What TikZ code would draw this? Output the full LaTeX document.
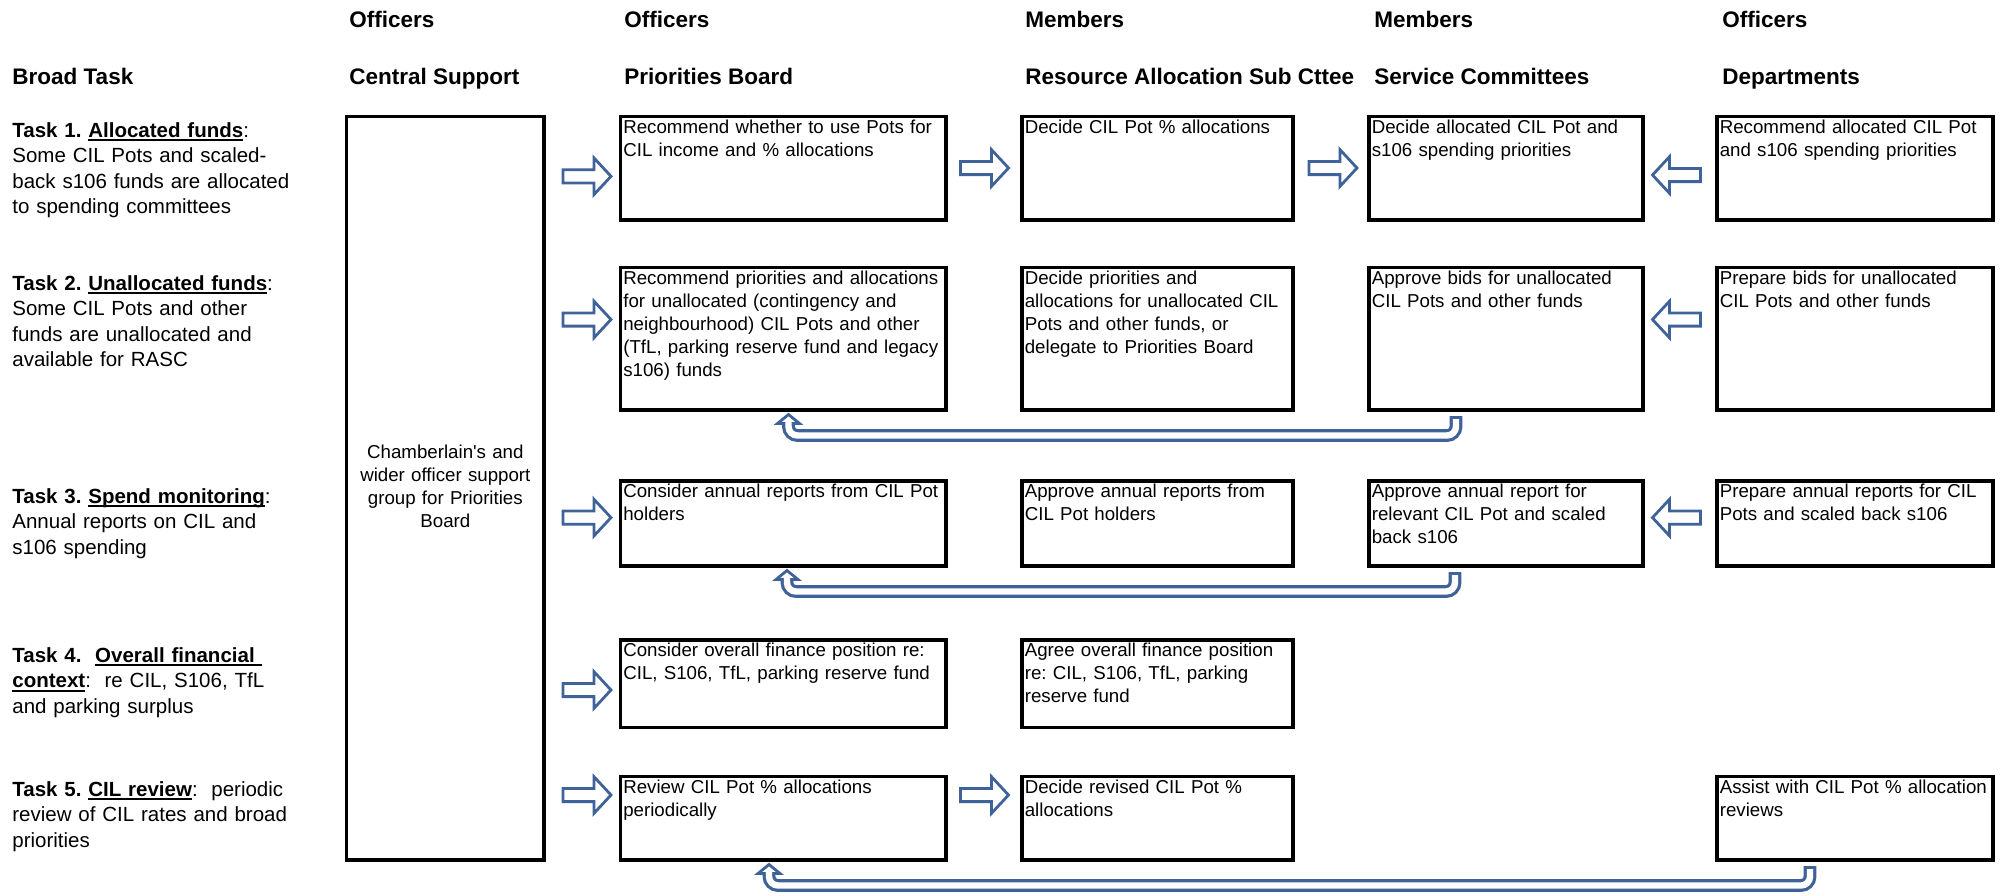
\documentclass[tikz,border=0pt]{standalone}
\usepackage{fontspec}
\setmainfont{Liberation Sans}[Ligatures=TeXOff]
\usetikzlibrary{calc}
\definecolor{arrblue}{HTML}{3F6398}

\newcommand\myul[1]{\setbox0\hbox{#1}\rlap{\rule[-2.2pt]{\wd0}{1.1pt}}\box0}

\tikzset{
  bx/.style={draw=black, line width=1.6pt, rectangle, inner sep=0pt, outer sep=0pt, anchor=north west},
  bxtext/.style={anchor=base west, inner sep=0pt, text width=200pt, align=left,
    font=\fontsize{9.35pt}{11.5pt}\selectfont},
  hdr/.style={anchor=base west, inner sep=0pt, font=\fontsize{11.25pt}{13pt}\selectfont\bfseries},
  tasktext/.style={anchor=base west, inner sep=0pt, text width=200pt, align=left,
    font=\fontsize{10.25pt}{12.8pt}\selectfont},
  barrow/.style={draw=arrblue, fill=white, line width=1.4pt, line join=miter},
}

% name, x1, y1, x2, y2, text  (pixel coordinates)
\newcommand\taskbox[6]{%
  \node[bx, minimum width={(#4-#2)*0.5pt}, minimum height={(#5-#3)*0.5pt}] (#1) at (#2,#3) {};
  \node[bxtext] (#1t) at ([shift={(1.2pt,-8.3pt)}]#1.north west) {#6};
}
% right-pointing block arrow: tip x, centre y
\newcommand\rarr[2]{%
  \draw[barrow] (#1-48,#2-6.6) -- (#1-17,#2-6.6) -- (#1-17,#2-18.3) -- (#1,#2)
    -- (#1-17,#2+18.3) -- (#1-17,#2+6.6) -- (#1-48,#2+6.6) -- cycle;
}
% left-pointing block arrow: tip x, centre y
\newcommand\larr[2]{%
  \draw[barrow] (#1+48,#2-6.6) -- (#1+17,#2-6.6) -- (#1+17,#2-18.3) -- (#1,#2)
    -- (#1+17,#2+18.3) -- (#1+17,#2+6.6) -- (#1+48,#2+6.6) -- cycle;
}
% U-turn return arrow: left x (head), right x (tail), y of box bottoms
\newcommand\uturn[3]{%
  \coordinate (ut-a) at (#2,#3+6);
  \coordinate (ut-b) at (#2,#3+25.5);
  \coordinate (ut-c) at (#1,#3+25.5);
  \coordinate (ut-d) at (#1,#3+13.5);
  \draw[arrblue, line width=6.4pt, rounded corners=4.5pt] (ut-a) -- (ut-b) -- (ut-c) -- (ut-d);
  \draw[barrow] (#1-11,#3+13.5) -- (#1,#3+4.5) -- (#1+11,#3+13.5) -- cycle;
  \draw[white, line width=3.2pt, rounded corners=4.5pt] (#2,#3+9) -- (ut-b) -- (ut-c) -- (#1,#3+10.5);
}

\begin{document}
\frenchspacing
\begin{tikzpicture}[x=0.5pt,y=-0.5pt]
\useasboundingbox (0,0) rectangle (2004,895);
\fill[white] (0,0) rectangle (2004,895);

% ---- headers
\node[hdr] (o1) at (349,27) {Officers};
\node[hdr] (o2) at (624,27) {Officers};
\node[hdr] (o3) at (1025,27) {Members};
\node[hdr] (o4) at (1374,27) {Members};
\node[hdr] (o5) at (1722,27) {Officers};
\node[hdr] (h0) at (12,84.5) {Broad Task};
\node[hdr] (h1) at (349,84.5) {Central Support};
\node[hdr] (h2) at (624,84.5) {Priorities Board};
\node[hdr] (h3) at (1025,84.5) {Resource Allocation Sub Cttee};
\node[hdr] (h4) at (1374,84.5) {Service Committees};
\node[hdr] (h5) at (1722,84.5) {Departments};

% ---- broad tasks
\node[tasktext] (t1) at (12,137) {\textbf{Task 1. \myul{Allocated funds}}:\\
  Some CIL Pots and scaled-\\ back s106 funds are allocated\\ to spending committees};
\node[tasktext] (t2) at (12,290) {\textbf{Task 2. \myul{Unallocated funds}}:\\
  Some CIL Pots and other\\ funds are unallocated and\\ available for RASC};
\node[tasktext] (t3) at (12,503) {\textbf{Task 3. \myul{Spend monitoring}}:\\
  Annual reports on CIL and\\ s106 spending};
\node[tasktext] (t4) at (12,662) {\textbf{Task 4.\ \ \myul{Overall financial\ }}\\
  \textbf{\myul{context}}:\ \ re CIL, S106, TfL\\ and parking surplus};
\node[tasktext] (t5) at (12,796) {\textbf{Task 5. \myul{CIL review}}:\ \ periodic\\
  review of CIL rates and broad\\ priorities};

% ---- central support
\node[bx, minimum width={(544-346.7)*0.5pt}, minimum height={(860-116.7)*0.5pt}] (cs) at (346.7,116.7) {};
\node[anchor=base, inner sep=0pt, text width=95pt, align=center,
  font=\fontsize{9.35pt}{11.65pt}\selectfont] (cst) at (cs.center |- 0,458)
  {Chamberlain's and\\ wider officer support\\ group for Priorities\\ Board};

% ---- row 1
\taskbox{p1}{620.5}{116.7}{946}{220}{Recommend whether to use Pots for\\ CIL income and \% allocations}
\taskbox{r1}{1022}{116.7}{1293}{220}{Decide CIL Pot \% allocations}
\taskbox{s1}{1369}{116.7}{1643}{220}{Decide allocated CIL Pot and\\ s106 spending priorities}
\taskbox{d1}{1717}{116.7}{1993}{220}{Recommend allocated CIL Pot\\ and s106 spending priorities}

% ---- row 2
\taskbox{p2}{620.5}{267.5}{946}{410}{Recommend priorities and allocations\\ for unallocated (contingency and\\ neighbourhood) CIL Pots and other\\ (TfL, parking reserve fund and legacy\\ s106) funds}
\taskbox{r2}{1022}{267.5}{1293}{410}{Decide priorities and\\ allocations for unallocated CIL\\ Pots and other funds, or\\ delegate to Priorities Board}
\taskbox{s2}{1369}{267.5}{1643}{410}{Approve bids for unallocated\\ CIL Pots and other funds}
\taskbox{d2}{1717}{267.5}{1993}{410}{Prepare bids for unallocated\\ CIL Pots and other funds}

% ---- row 3
\taskbox{p3}{620.5}{481}{946}{566}{Consider annual reports from CIL Pot\\ holders}
\taskbox{r3}{1022}{481}{1293}{566}{Approve annual reports from\\ CIL Pot holders}
\taskbox{s3}{1369}{481}{1643}{566}{Approve annual report for\\ relevant CIL Pot and scaled\\ back s106}
\taskbox{d3}{1717}{481}{1993}{566}{Prepare annual reports for CIL\\ Pots and scaled back s106}

% ---- row 4
\taskbox{p4}{620.5}{640}{946}{727.5}{Consider overall finance position re:\\ CIL, S106, TfL, parking reserve fund}
\taskbox{r4}{1022}{640}{1293}{727.5}{Agree overall finance position\\ re: CIL, S106, TfL, parking\\ reserve fund}

% ---- row 5
\taskbox{p5}{620.5}{776.7}{946}{860}{Review CIL Pot \% allocations\\ periodically}
\taskbox{r5}{1022}{776.7}{1293}{860}{Decide revised CIL Pot \%\\ allocations}
\taskbox{d5}{1717}{776.7}{1993}{860}{Assist with CIL Pot \% allocation\\ reviews}

% ---- block arrows
\rarr{611}{176.3}
\rarr{1008.5}{168}
\rarr{1357}{168}
\larr{1652.5}{175}
\rarr{611}{319.5}
\larr{1652.5}{319.5}
\rarr{611}{517.6}
\larr{1652.5}{517.6}
\rarr{611}{690}
\rarr{611}{795}
\rarr{1008.5}{795}

% ---- return arrows
\uturn{788.5}{1456}{410}
\uturn{787}{1455}{566}
\uturn{769}{1810}{860}
\end{tikzpicture}
\end{document}
